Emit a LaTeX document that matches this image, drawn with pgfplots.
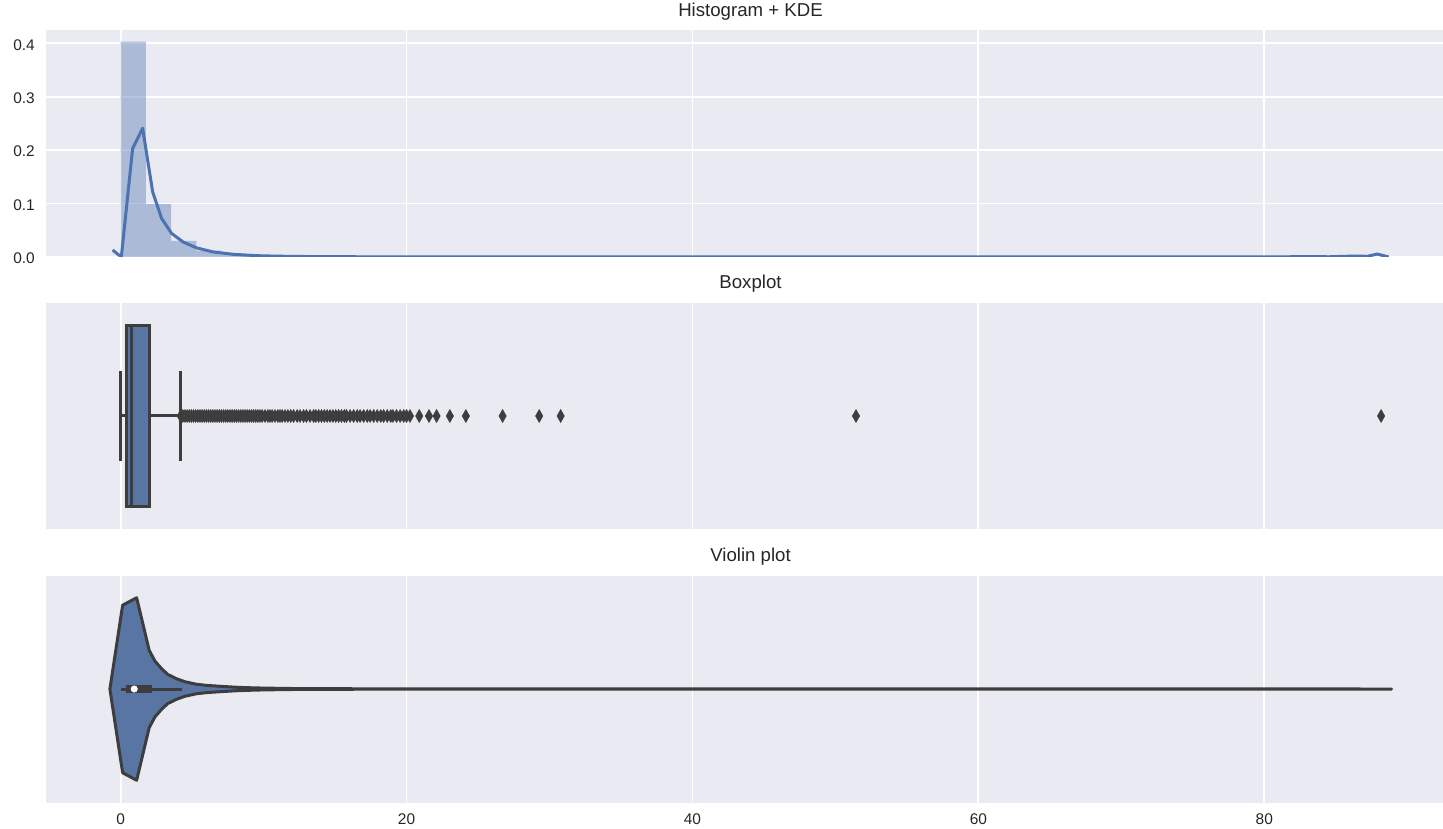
\documentclass[border=0pt]{standalone}
\usepackage{pgfplots}
\pgfplotsset{compat=1.18}
\usepackage{fontspec}
\setmainfont{Liberation Sans}
\definecolor{bg}{RGB}{234,234,242}
\definecolor{c0}{RGB}{76,114,176}
\definecolor{boxc}{RGB}{88,117,164}
\definecolor{dg}{RGB}{61,61,61}
\definecolor{txt}{RGB}{38,38,38}
\pgfplotsset{
  base/.style={
    scale only axis, width=1397bp, height=227bp,
    xmin=-5.22, xmax=92.5,
    axis background/.style={fill=bg},
    axis line style={draw=none},
    major tick length=0pt,
    tick style={draw=none},
    grid=major,
    major grid style={white, line width=1.8bp},
    xtick={0,20,40,60,80},
    title style={at={(0.5,1)}, anchor=base, yshift=7.6bp, xshift=6bp,
      font=\fontsize{18.7}{22}\selectfont, text=txt, inner sep=0pt},
    ticklabel style={font=\fontsize{15.5}{18}\selectfont, text=txt, inner sep=0pt},
    /pgf/number format/assume math mode=true,
  },
  cat/.style={ymin=-0.5, ymax=0.5, ytick=\empty},
}
\begin{document}
\begin{tikzpicture}
\path[use as bounding box] (0,0) rectangle (1443bp,829bp);

% ---------- Histogram + KDE ----------
\begin{axis}[base, at={(46bp,572bp)}, anchor=south west,
  title={Histogram + KDE},
  ymin=0, ymax=0.425,
  ytick={0,0.1,0.2,0.3,0.4},
  yticklabels={0.0,0.1,0.2,0.3,0.4},
  yticklabel style={xshift=-11bp, yshift=-1.5bp},
  xticklabels={}]
\addplot[ybar interval, fill=c0, fill opacity=0.4, draw=none] coordinates {
 (0,0.403) (1.764,0.099) (3.528,0.030) (5.292,0.012) (7.056,0.006)
 (8.82,0.003) (10.584,0.0018) (12.348,0.0012) (14.112,0.0008)
 (15.876,0.0005) (17.64,0.0004) (19.404,0.0003) (21.168,0.0002)
 (22.932,0.0001) (24.696,0.0001) (26.46,0.0001) (28.224,0.0001)
 (29.988,0.0001) (31.752,0)};
\addplot[c0, line width=3bp, line join=round] coordinates {
 (-0.56,0.013) (0.05,0) (0.84,0.203) (1.54,0.241) (2.24,0.122)
 (2.87,0.072) (3.57,0.044) (4.38,0.028) (5.32,0.017) (6.48,0.0094)
 (7.88,0.005) (9.5,0.0025) (11,0.0015) (13,0.0009) (15,0.0006)
 (17,0.0004) (20,0.0002) (25,0.0001) (30,0.0001) (40,0) (50,0.0001)
 (52,0.0002) (55,0) (70,0) (80,0) (82,0.0005) (83.5,0.0008)
 (84.5,0.0004) (85.5,0.0012) (86.5,0.0018) (87.2,0.0012)
 (87.9,0.0055) (88.7,0)};
\end{axis}

% ---------- Boxplot ----------
\begin{axis}[base, cat, at={(46bp,299.5bp)}, anchor=south west,
  title={Boxplot}, xticklabels={}]
\addplot[dg, line width=3bp] coordinates {(0,0) (0.42,0)};
\addplot[dg, line width=3bp] coordinates {(2.05,0) (4.2,0)};
\addplot[dg, line width=3bp] coordinates {(0,-0.2) (0,0.2)};
\addplot[dg, line width=3bp] coordinates {(4.2,-0.2) (4.2,0.2)};
\addplot[fill=boxc, draw=dg, line width=3bp] coordinates {
 (0.42,-0.4) (2.05,-0.4) (2.05,0.4) (0.42,0.4)} --cycle;
\addplot[dg, line width=3bp] coordinates {(0.77,-0.4) (0.77,0.4)};
\addplot[only marks, mark=diamond*, mark size=6.5bp,
  mark options={xscale=0.75, fill=dg, draw=dg, line width=0.5bp}] coordinates {
 (4.20,0) (4.35,0) (4.50,0) (4.65,0) (4.80,0) (4.95,0) (5.10,0) (5.25,0)
 (5.40,0) (5.55,0) (5.70,0) (5.85,0) (6.00,0) (6.15,0) (6.30,0) (6.45,0)
 (6.60,0) (6.75,0) (6.90,0) (7.05,0) (7.20,0) (7.35,0) (7.50,0) (7.65,0)
 (7.80,0) (7.95,0) (8.10,0) (8.25,0) (8.40,0) (8.55,0) (8.70,0) (8.85,0)
 (9.00,0) (9.15,0) (9.30,0) (9.45,0) (9.60,0) (9.75,0) (9.90,0) (10.10,0)
 (10.30,0) (10.45,0) (10.60,0) (10.80,0) (11.00,0) (11.15,0) (11.30,0)
 (11.50,0) (11.70,0) (11.90,0) (12.10,0) (12.35,0) (12.55,0) (12.80,0)
 (13.00,0) (13.25,0) (13.50,0) (13.65,0) (13.85,0) (14.05,0) (14.25,0)
 (14.45,0) (14.65,0) (14.85,0) (15.05,0) (15.25,0) (15.45,0) (15.65,0)
 (15.80,0) (16.05,0) (16.30,0) (16.55,0) (16.75,0) (17.00,0) (17.25,0)
 (17.45,0) (17.70,0) (17.95,0) (18.20,0) (18.40,0) (18.65,0) (18.90,0)
 (19.05,0) (19.30,0) (19.55,0) (19.80,0) (20.00,0) (20.24,0) (20.89,0)
 (21.57,0) (22.10,0) (23.03,0) (24.15,0) (26.72,0) (29.28,0) (30.78,0)
 (51.44,0) (88.17,0)};
\end{axis}

% ---------- Violin plot ----------
\begin{axis}[base, cat, at={(46bp,26.5bp)}, anchor=south west,
  title={Violin plot},
  xticklabels={0,20,40,60,80},
  xticklabel style={yshift=-11.3bp}]
\addplot[fill=boxc, draw=dg, line width=3bp, line join=round] coordinates {
 (-0.75,0) (0.14,0.369) (1.12,0.402) (2.0,0.170) (2.4,0.123) (2.87,0.089)
 (3.3,0.064) (3.92,0.045) (4.5,0.032) (5.3,0.021) (6.0,0.016) (6.95,0.012)
 (8.0,0.008) (8.8,0.006) (10,0.004) (12,0.0022) (14,0.0014) (20,0.0006)
 (40,0.0002) (88.9,0)
 (40,-0.0002) (20,-0.0006) (14,-0.0014) (12,-0.0022) (10,-0.004)
 (8.8,-0.006) (8.0,-0.008) (6.95,-0.012) (6.0,-0.016) (5.3,-0.021)
 (4.5,-0.032) (3.92,-0.045) (3.3,-0.064) (2.87,-0.089) (2.4,-0.123)
 (2.0,-0.170) (1.12,-0.402) (0.14,-0.369)} --cycle;
\addplot[dg, line width=3bp] coordinates {(0,0) (4.27,0)};
\addplot[dg, line width=7.5bp] coordinates {(0.38,0) (2.17,0)};
\addplot[only marks, mark=*, mark size=3.3bp, mark options={fill=white, draw=white}]
  coordinates {(0.95,0)};
\end{axis}
\end{tikzpicture}
\end{document}
